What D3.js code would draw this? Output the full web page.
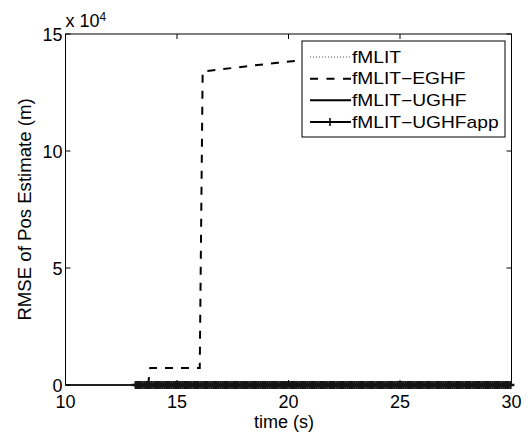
<!DOCTYPE html>
<html lang="en">
<head>
<meta charset="utf-8">
<script src="https://d3js.org/d3.v7.min.js"></script>
<style>
  body { margin: 0; background: #fff; }
  svg text { font-family: "Liberation Sans", Arial, Helvetica, sans-serif; fill: #000; }
</style>
</head>
<body>
<script>
  // Data
  const xTicks = [10, 15, 20, 25, 30];
  const yTicks = [0, 5, 10, 15];          // in units of 10^4 m
  const seriesNames = ["fMLIT", "fMLIT\u2212EGHF", "fMLIT\u2212UGHF", "fMLIT\u2212UGHFapp"];

  const fmlitTime = [13.0, 30.0];
  const fmlitRmse = [0, 0];
  const eghfTime = [13.7, 13.8, 16.02, 16.15, 19.5, 22.0];
  const eghfRmse = [0, 7300, 7300, 134000, 137700, 140000];
  const ughfTime = [10.0, 30.0];
  const ughfRmse = [0, 0];
  // UGHFapp is sampled every 0.1 s from 13.15 s, RMSE stays at 0
  const appTime = d3.range(13.15, 30.001, 0.1);
  const appRmse = appTime.map(() => 0);

  // Dimensions
  const width = 531, height = 433;
  const mLeft = 65.5, mRight = 511.5, mTop = 34, mBottom = 385;

  const svg = d3.select("body").append("svg")
    .attr("width", width)
    .attr("height", height);

  const x = d3.scaleLinear().domain([10, 30]).range([mLeft, mRight]);
  const y = d3.scaleLinear().domain([0, 150000]).range([mBottom, mTop]);

  const fs = 18;

  // frame
  svg.append("rect")
    .attr("x", mLeft).attr("y", mTop)
    .attr("width", mRight - mLeft).attr("height", mBottom - mTop)
    .attr("fill", "none").attr("stroke", "#000").attr("stroke-width", 1);

  // ticks (inward, on all four sides)
  const tickLen = 5;
  const g = svg.append("g").attr("stroke", "#000").attr("stroke-width", 1);
  xTicks.forEach(t => {
    g.append("line").attr("x1", x(t)).attr("x2", x(t)).attr("y1", mBottom).attr("y2", mBottom - tickLen);
    g.append("line").attr("x1", x(t)).attr("x2", x(t)).attr("y1", mTop).attr("y2", mTop + tickLen);
  });
  yTicks.forEach(t => {
    g.append("line").attr("x1", mLeft).attr("x2", mLeft + tickLen).attr("y1", y(t * 1e4)).attr("y2", y(t * 1e4));
    g.append("line").attr("x1", mRight).attr("x2", mRight - tickLen).attr("y1", y(t * 1e4)).attr("y2", y(t * 1e4));
  });

  // tick labels
  svg.append("g").selectAll("text").data(xTicks).enter().append("text")
    .attr("x", d => x(d)).attr("y", mBottom + 22.5)
    .attr("text-anchor", "middle").style("font-size", fs + "px")
    .text(d => d);
  svg.append("g").selectAll("text").data(yTicks).enter().append("text")
    .attr("x", mLeft - 3).attr("y", d => y(d * 1e4) + 6.5)
    .attr("text-anchor", "end").style("font-size", fs + "px")
    .text(d => d);

  // exponent label
  const expo = svg.append("text").attr("x", mLeft).attr("y", 27).style("font-size", fs + "px");
  expo.append("tspan").text("x 10");
  expo.append("tspan").attr("dy", -6).style("font-size", "12px").text("4");

  // axis labels
  svg.append("text")
    .attr("x", 284).attr("y", 428)
    .attr("text-anchor", "middle").style("font-size", fs + "px")
    .text("time (s)");
  svg.append("text")
    .attr("transform", "translate(31," + ((mTop + mBottom) / 2) + ") rotate(-90)")
    .attr("text-anchor", "middle").style("font-size", "18.6px")
    .text("RMSE of Pos Estimate (m)");

  // lines
  const line = d3.line().x(d => x(d[0])).y(d => y(d[1]));
  const plot = svg.append("g");

  plot.append("path")
    .datum(d3.zip(ughfTime, ughfRmse))
    .attr("fill", "none").attr("stroke", "#000").attr("stroke-width", 1.3)
    .attr("d", line);

  plot.append("path")
    .datum(d3.zip(fmlitTime, fmlitRmse))
    .attr("fill", "none").attr("stroke", "#555").attr("stroke-width", 1)
    .attr("stroke-dasharray", "1,2")
    .attr("d", line);

  plot.append("path")
    .datum(d3.zip(eghfTime, eghfRmse))
    .attr("fill", "none").attr("stroke", "#000").attr("stroke-width", 2)
    .attr("stroke-dasharray", "8,8")
    .attr("d", line);

  const appData = d3.zip(appTime, appRmse);
  plot.append("path")
    .datum(appData)
    .attr("fill", "none").attr("stroke", "#111").attr("stroke-width", 3)
    .attr("d", line);
  const plusPath = "M-4,0H4M0,-4V4";
  plot.append("g").selectAll("path").data(appData).enter().append("path")
    .attr("transform", d => "translate(" + x(d[0]) + "," + y(d[1]) + ")")
    .attr("d", plusPath)
    .attr("fill", "none").attr("stroke", "#151515").attr("stroke-width", 2.4);

  // legend
  const lg = svg.append("g");
  lg.append("rect")
    .attr("x", 302).attr("y", 41).attr("width", 203).attr("height", 96)
    .attr("fill", "#fff").attr("stroke", "#000").attr("stroke-width", 1);
  const rowY = [57, 78.7, 100.3, 122];
  const styles = [
    { stroke: "#555", w: 1, dash: "1,2" },
    { stroke: "#000", w: 2, dash: "8,8.5" },
    { stroke: "#000", w: 2, dash: null },
    { stroke: "#000", w: 2, dash: null }
  ];
  seriesNames.forEach((name, i) => {
    const l = lg.append("line")
      .attr("x1", 310).attr("x2", 351).attr("y1", rowY[i]).attr("y2", rowY[i])
      .attr("stroke", styles[i].stroke).attr("stroke-width", styles[i].w);
    if (styles[i].dash) l.attr("stroke-dasharray", styles[i].dash);
    lg.append("text")
      .attr("transform", "translate(352," + (rowY[i] + 5.5) + ") scale(1.2,1)")
      .style("font-size", "16px")
      .text(name);
  });
  lg.append("path")
    .attr("transform", "translate(330," + rowY[3] + ")")
    .attr("d", plusPath)
    .attr("fill", "none").attr("stroke", "#000").attr("stroke-width", 1.5);
</script>
</body>
</html>
